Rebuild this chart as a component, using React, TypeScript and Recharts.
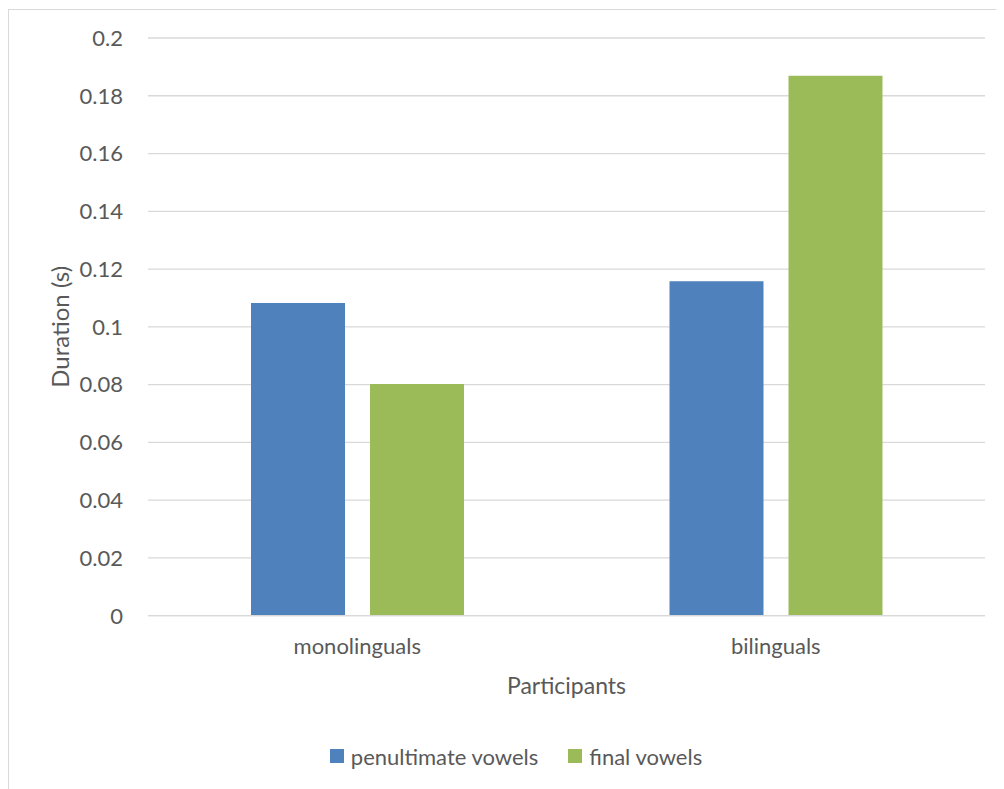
import { BarChart, Bar, XAxis, YAxis, CartesianGrid, Legend } from "recharts";

// Mean vowel duration (seconds) by participant group
const groups = ["monolinguals", "bilinguals"];
const penultimate = [0.1083, 0.1158];
const finalVowels = [0.0802, 0.1869];
const yTicks = [0, 0.02, 0.04, 0.06, 0.08, 0.1, 0.12, 0.14, 0.16, 0.18, 0.2];

const seriesNames = ["penultimate vowels", "final vowels"];
const seriesColors = ["#4F81BD", "#9BBB59"];

const data = groups.map((g, i) => ({
  group: g,
  penultimate: penultimate[i],
  final: finalVowels[i],
}));

const FONT = "Lato, 'Open Sans', sans-serif";
const TEXT = "#595959";
const GRID = "#d9d9d9";

// keep series order (recharts sorts legend items by name otherwise)
const LegendBox = () => (
  <div
    style={{
      display: "flex",
      justifyContent: "center",
      alignItems: "center",
      height: 30,
      fontFamily: FONT,
      fontSize: 22,
      color: TEXT,
    }}
  >
    {seriesNames.map((name, i) => (
      <div
        key={name}
        style={{ display: "flex", alignItems: "center", marginLeft: i ? 30 : 0 }}
      >
        <span
          style={{
            width: 14,
            height: 14,
            background: seriesColors[i],
            display: "inline-block",
            marginRight: 7,
          }}
        />
        <span>{name}</span>
      </div>
    ))}
  </div>
);

export default function App() {
  return (
    <div
      style={{
        position: "relative",
        top: 1,
        width: 996,
        height: 781,
        borderLeft: `1px solid ${GRID}`,
        borderTop: `1px solid ${GRID}`,
        overflow: "hidden",
        background: "#fff",
      }}
    >
      <BarChart
        width={1014}
        height={780}
        data={data}
        margin={{ top: 28, right: 38, left: 0, bottom: 61.3 }}
        barSize={94}
        barGap={25}
      >
        <CartesianGrid vertical={false} stroke={GRID} strokeWidth={1.3} />
        <XAxis
          dataKey="group"
          height={83}
          axisLine={{ stroke: GRID, strokeWidth: 1.3 }}
          tickLine={false}
          tickSize={0}
          tickMargin={22.7}
          tick={{ fill: TEXT, fontSize: 22, fontFamily: FONT }}
          label={{
            value: "Participants",
            position: "insideBottom",
            offset: 5,
            fill: TEXT,
            fontSize: 23,
            fontFamily: FONT,
          }}
        />
        <YAxis
          width={139}
          domain={[0, 0.2]}
          ticks={yTicks}
          tickFormatter={(v: number) => String(v)}
          axisLine={false}
          tickLine={false}
          tickSize={0}
          tickMargin={25}
          tick={{ fill: TEXT, fontSize: 22, fontFamily: FONT }}
          label={{
            value: "Duration (s)",
            angle: -90,
            position: "insideLeft",
            offset: 51,
            fill: TEXT,
            fontSize: 24,
            fontFamily: FONT,
            style: { textAnchor: "middle" },
          }}
        />
        <Legend
          content={<LegendBox />}
          wrapperStyle={{ top: 731, left: 0, width: 1014 }}
        />
        <Bar
          dataKey="penultimate"
          name={seriesNames[0]}
          fill={seriesColors[0]}
          isAnimationActive={false}
        />
        <Bar
          dataKey="final"
          name={seriesNames[1]}
          fill={seriesColors[1]}
          isAnimationActive={false}
        />
      </BarChart>
    </div>
  );
}
